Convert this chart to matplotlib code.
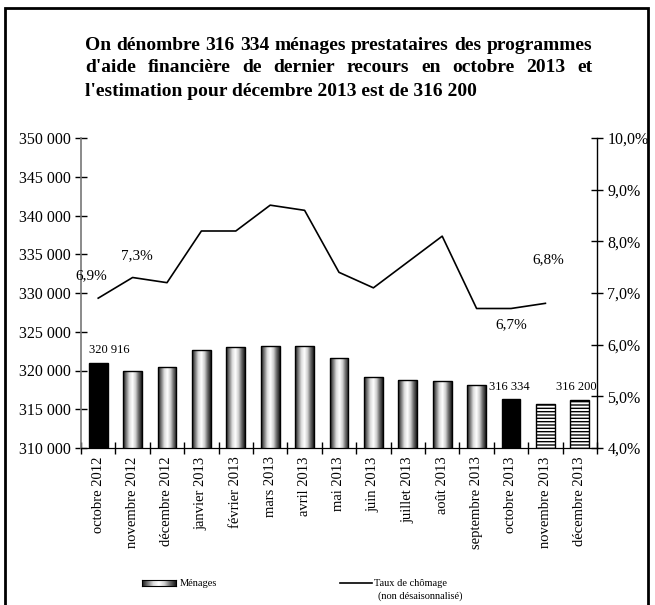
import numpy as np
import matplotlib
matplotlib.use("Agg")
import matplotlib.pyplot as plt
from matplotlib.patches import Rectangle
from matplotlib.lines import Line2D
from matplotlib.colors import LinearSegmentedColormap

months = ["octobre 2012", "novembre 2012", "décembre 2012", "janvier 2013",
          "février 2013", "mars 2013", "avril 2013", "mai 2013", "juin 2013",
          "juillet 2013", "août 2013", "septembre 2013", "octobre 2013",
          "novembre 2013", "décembre 2013"]
menages = [320916, 320000, 320400, 322600, 323050, 323100, 323100, 321600,
           319150, 318800, 318650, 318100, 316334, 315700, 316200]
chomage = [6.9, 7.3, 7.2, 8.2, 8.2, 8.7, 8.6, 7.4, 7.1, 7.6, 8.1, 6.7, 6.7, 6.8]
bar_styles = ["black", "grad", "grad", "grad", "grad", "grad", "grad", "grad",
              "grad", "grad", "grad", "grad", "black", "hatch", "hatch"]
left_ticks = [310000, 315000, 320000, 325000, 330000, 335000, 340000, 345000, 350000]
right_ticks = [4.0, 5.0, 6.0, 7.0, 8.0, 9.0, 10.0]
title_lines = ["On dénombre 316 334 ménages prestataires des programmes",
               "d'aide financière de dernier recours en octobre 2013 et",
               "l'estimation pour décembre 2013 est de 316 200"]

SERIF = "Liberation Serif"
plt.rcParams["font.family"] = [SERIF, "DejaVu Serif"]

fig = plt.figure(figsize=(6.55, 6.05), dpi=100)
W, H = 655, 605
ax = fig.add_axes([81 / W, 1 - 448 / H, (597 - 81) / W, (448 - 138) / H])
ax2 = ax.twinx()

x = np.arange(len(months))
cyl = LinearSegmentedColormap.from_list(
    "cyl", ["#1a1a1a", "#7a7a7a", "#dcdcdc", "#ffffff", "#cfcfcf", "#6a6a6a", "#1a1a1a"])
grad = np.linspace(0, 1, 64).reshape(1, -1)

bars = ax.bar(x, menages, width=0.55, bottom=0, edgecolor="black", linewidth=1.0, zorder=2)
for b, st in zip(bars, bar_styles):
    if st == "black":
        b.set_facecolor("black")
    elif st == "hatch":
        b.set_facecolor("white")
        b.set_hatch("-----")
    else:
        b.set_facecolor("none")
        bx = b.get_x()
        im = ax.imshow(grad, cmap=cyl, aspect="auto",
                       extent=[bx, bx + b.get_width(), 310000, b.get_height()],
                       zorder=1.5, interpolation="bilinear")
        im.set_clip_path(b)

ax.set_xlim(-0.5, len(months) - 0.5)
ax.set_ylim(310000, 350000)
ax.set_yticks(left_ticks)
ax.set_yticklabels([f"{v:,}".replace(",", " ") for v in left_ticks], fontsize=11.5)
ax.set_xticks(np.arange(len(months) + 1) - 0.5, minor=False)
ax.set_xticklabels([])
ax.set_xticks(x, minor=True)
ax.set_xticklabels(months, minor=True, rotation=90, fontsize=10.5)
ax.tick_params(axis="x", which="minor", length=0, pad=6)
ax.tick_params(axis="x", which="major", direction="inout", length=8, width=1)
ax.tick_params(axis="y", direction="inout", length=8, width=1)

ax2.plot(x[:len(chomage)], chomage, color="black", linewidth=1.2, zorder=3)
ax2.set_ylim(4.0, 10.0)
ax2.set_yticks(right_ticks)
ax2.set_yticklabels([f"{v:.1f}%".replace(".", ",") for v in right_ticks], fontsize=11.5)
ax2.tick_params(axis="y", direction="inout", length=8, width=1)

for a in (ax, ax2):
    a.spines["top"].set_visible(False)
ax.spines["left"].set_color("#777777")
ax.spines["left"].set_linewidth(1.2)
ax2.spines["left"].set_visible(False)
ax2.spines["right"].set_linewidth(1.0)
ax.spines["right"].set_visible(False)
ax.set_zorder(ax2.get_zorder() - 1)
ax2.patch.set_visible(False)

# value labels
lab_kw = dict(fontsize=9, ha="center", va="center")
ax.text(x[0] + 0.32, 322650, "320 916", **lab_kw)
ax.text(x[12] - 0.05, 317900, "316 334", **lab_kw)
ax.text(x[14] - 0.1, 317900, "316 200", **lab_kw)
pk = dict(fontsize=11, ha="center", va="center")
ax2.text(x[0] - 0.2, chomage[0] + 0.43, "6,9%", **pk)
ax2.text(x[1] + 0.13, chomage[1] + 0.43, "7,3%", **pk)
ax2.text(x[12], chomage[12] - 0.32, "6,7%", **pk)
ax2.text(x[13] + 0.08, chomage[13] + 0.84, "6,8%", **pk)

# justified title
x0, x1 = 85 / W, 592 / W
ys = [1 - 45 / H, 1 - 68 / H, 1 - 91 / H]
fs_title = 14
fig.canvas.draw()
r = fig.canvas.get_renderer()
for i, (line, yy) in enumerate(zip(title_lines, ys)):
    if i == len(title_lines) - 1:
        fig.text(x0, yy, line, fontsize=fs_title, fontweight="bold", va="center", ha="left")
        continue
    words = line.split(" ")
    txts = [fig.text(0, yy, w_, fontsize=fs_title, fontweight="bold", va="center", ha="left") for w_ in words]
    widths = [t.get_window_extent(r).width / (fig.dpi * 6.55) for t in txts]
    gap = (x1 - x0 - sum(widths)) / (len(words) - 1)
    cx = x0
    for t, wd in zip(txts, widths):
        t.set_x(cx)
        cx += wd + gap

# legend
lk = dict(fontsize=7.5, va="center", ha="left")
legim = fig.add_axes([142 / W, 1 - 586 / H, 34 / W, 6 / H])
legim.imshow(grad, cmap=cyl, aspect="auto", interpolation="bilinear")
legim.set_xticks([])
legim.set_yticks([])
for s in legim.spines.values():
    s.set_linewidth(0.8)
fig.text(180 / W, 1 - 583 / H, "Ménages", **lk)
fig.lines.append(Line2D([340 / W, 372 / W], [1 - 583 / H, 1 - 583 / H], transform=fig.transFigure,
                        color="black", linewidth=1.2))
fig.text(374 / W, 1 - 583 / H, "Taux de chômage", **lk)
fig.text(378 / W, 1 - 596 / H, "(non désaisonnalisé)", **lk)

# frame
fig.patches.append(Rectangle((5 / W, -0.02), 643 / W, 1 - 8 / H + 0.02, transform=fig.transFigure,
                             facecolor="none", edgecolor="black", linewidth=2.0, zorder=5))

fig.savefig("out.png", dpi=100)
